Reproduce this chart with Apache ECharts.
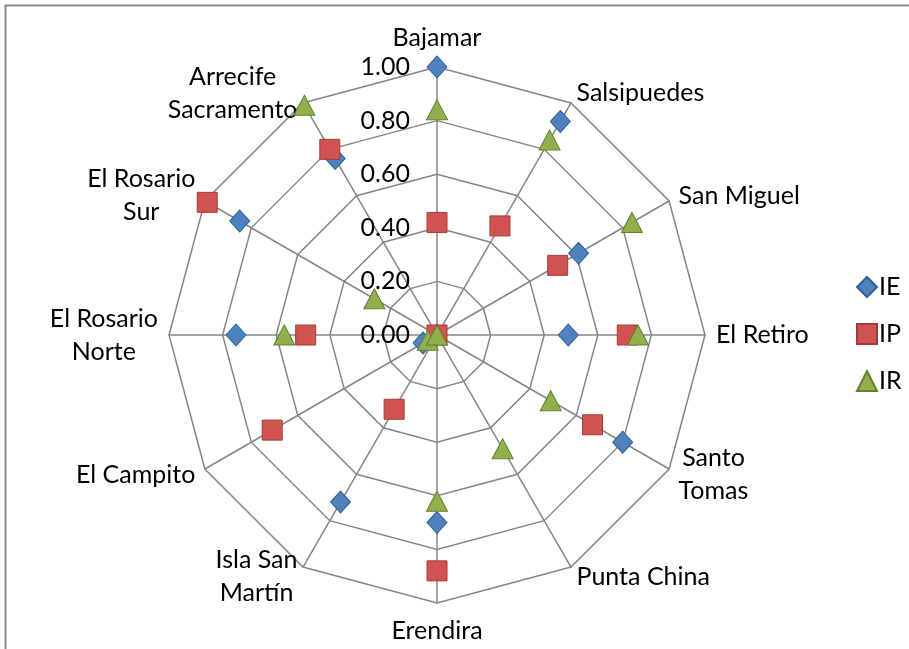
<!DOCTYPE html>
<html>
<head>
<meta charset="utf-8">
<script src="https://cdn.jsdelivr.net/npm/echarts@6/dist/echarts.min.js"></script>
<style>
html,body{margin:0;padding:0;background:#fff;}
#chart{width:909px;height:649px;}
</style>
</head>
<body>
<div id="chart"></div>
<script>
// Categories listed clockwise from the top, as in the reference
var categories = ['Bajamar','Salsipuedes','San Miguel','El Retiro','Santo\nTomas','Punta China','Erendira','Isla San\nMartín','El Campito','El Rosario\nNorte','El Rosario\nSur','Arrecife\nSacramento'];
var seriesNames = ['IE','IP','IR'];
var IE = [1.00, 0.92, 0.61, 0.49, 0.80, 0.00, 0.70, 0.72, 0.06, 0.75, 0.85, 0.76];
var IP = [0.42, 0.47, 0.52, 0.71, 0.67, 0.00, 0.88, 0.32, 0.71, 0.49, 0.99, 0.80];
var IR = [0.84, 0.84, 0.84, 0.75, 0.49, 0.49, 0.62, 0.00, 0.04, 0.57, 0.27, 0.99];
var axisMin = 0, axisMax = 1, axisSplits = 5;

// ECharts radar lays indicators out counter-clockwise; reorder so they run clockwise
var order = [0];
for (var k = categories.length - 1; k >= 1; k--) order.push(k);
function reorder(arr) { return order.map(function (i) { return arr[i]; }); }

var FONT = 'Lato';
var chart = echarts.init(document.getElementById('chart'));
var gridColor = '#868686';

function radarSeries(name, values, symbol, size, color, border) {
  return {
    type: 'radar',
    name: name,
    symbol: symbol,
    symbolSize: size,
    lineStyle: {width: 0, opacity: 0},
    itemStyle: {color: color, borderColor: border, borderWidth: 1},
    data: [{name: name, value: reorder(values)}]
  };
}

chart.setOption({
  animation: false,
  backgroundColor: '#fff',
  graphic: [{
    type: 'rect', silent: true, z: -1,
    shape: {x: 5.5, y: 5.5, width: 2000, height: 2000},
    style: {fill: 'none', stroke: '#8c8c8c', lineWidth: 2}
  }],
  legend: {
    orient: 'vertical',
    left: 851,
    top: 268,
    itemGap: 19,
    itemWidth: 20,
    itemHeight: 20,
    textStyle: {fontFamily: FONT, fontSize: 25, color: '#000', lineHeight: 28, padding: [0,0,0,-3]},
    data: [
      {name: 'IE', icon: 'diamond'},
      {name: 'IP', icon: 'rect'},
      {name: 'IR', icon: 'triangle'}
    ]
  },
  radar: {
    center: [437, 335],
    radius: 268,
    startAngle: 90,
    shape: 'polygon',
    splitNumber: axisSplits,
    nameGap: 11,
    indicator: reorder(categories).map(function (n, i) {
      var o = {name: n, min: axisMin, max: axisMax};
      if (i === 0) o.axisLabel = {show: true};
      return o;
    }),
    axisName: {
      color: '#000',
      fontFamily: FONT,
      fontSize: 25,
      lineHeight: 33,
      formatter: function (name) {
        return name.split('\n').map(function (l) { return '{c|' + l + '}'; }).join('\n');
      },
      rich: {c: {align: 'center', color: '#000', fontFamily: FONT, fontSize: 25, lineHeight: 33}}
    },
    axisLine: {lineStyle: {color: gridColor, width: 1.5}},
    splitLine: {lineStyle: {color: gridColor, width: 1.5}},
    splitArea: {show: false},
    axisTick: {show: false},
    axisLabel: {
      show: false,
      color: '#000',
      fontFamily: FONT,
      fontSize: 25,
      margin: 27,
      formatter: function (v) { return Number(v).toFixed(2); }
    }
  },
  series: [
    radarSeries('IE', IE, 'diamond', [20, 22], '#4F81BD', '#2f5f96'),
    radarSeries('IP', IP, 'rect', [20, 20], '#CF5451', '#a43a37'),
    radarSeries('IR', IR, 'triangle', [21, 20], '#8FB04C', '#647f2f')
  ]
});
</script>
</body>
</html>
